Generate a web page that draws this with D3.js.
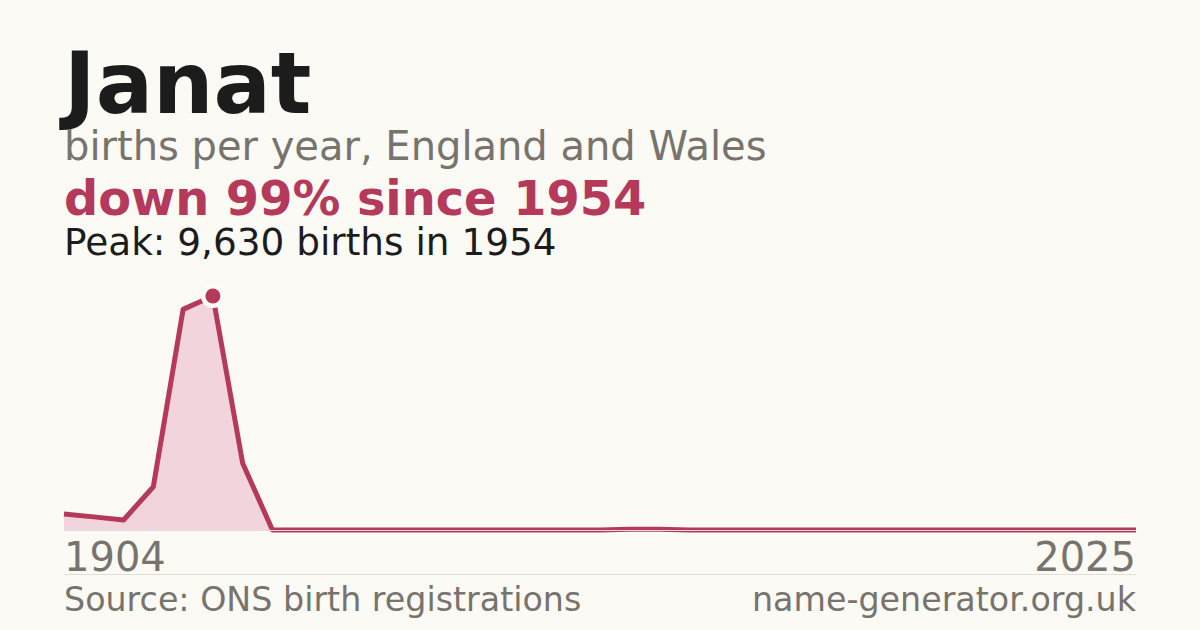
<!DOCTYPE html>
<html>
<head>
  <title>Janat births</title>
  <style>
    html, body {
      margin: 0;
      padding: 0;
      background: #fbfaf5;
    }
    svg {
      display: block;
      font-family: "DejaVu Sans", sans-serif;
    }
  </style>
</head>
<body>
  <svg id="chart"></svg>

  <script src="https://d3js.org/d3.v7.min.js"></script>
  <script>
    // Years on the x axis (decade samples, then annual)
    const years = [
      1904, 1914, 1924, 1934, 1944, 1954, 1964, 1974, 1984, 1994,
      1999, 2000, 2001, 2002, 2003, 2004, 2005, 2006, 2007, 2008,
      2009, 2010, 2011, 2012, 2013, 2014, 2015, 2016, 2017, 2018,
      2019, 2020, 2021, 2022, 2023, 2024, 2025
    ];

    // Births per year
    const births = [
      660, 540, 410, 1780, 9080, 9630, 2750, 0, 0, 0,
      0, 0, 0, 0, 0, 0, 0, 0, 0, 35,
      35, 0, 0, 0, 0, 0, 0, 0, 0, 0,
      0, 0, 0, 0, 0, 0, 0
    ];

    const axisLabels = ["1904", "2025"];

    const title = "Janat";
    const subtitle = "births per year, England and Wales";
    const headline = "down 99% since 1954";
    const peakNote = "Peak: 9,630 births in 1954";
    const source = "Source: ONS birth registrations";
    const site = "name-generator.org.uk";

    const chart = () => {
      const width = 1200;
      const height = 630;
      const left = 64;
      const right = 1136;
      const base = 530;
      const top = 296;

      const red = "#b5395a";
      const grey = "#78736c";
      const dark = "#1c1c1c";

      const svg = d3.select("#chart")
        .attr("width", width)
        .attr("height", height);

      svg.append("rect")
        .attr("width", width)
        .attr("height", height)
        .attr("fill", "#fbfaf5");

      const data = years.map((y, i) => ({ year: y, value: births[i] }));

      const x = d3.scalePoint()
        .domain(years)
        .range([left, right]);

      const y = d3.scaleLinear()
        .domain([0, d3.max(births)])
        .range([base, top]);

      // headings
      svg.append("text")
        .attr("x", left)
        .attr("y", 113)
        .attr("font-size", 85)
        .attr("font-weight", "bold")
        .attr("fill", dark)
        .text(title);

      svg.append("text")
        .attr("x", left)
        .attr("y", 160)
        .attr("font-size", 40)
        .attr("fill", grey)
        .text(subtitle);

      svg.append("text")
        .attr("x", left)
        .attr("y", 215)
        .attr("font-size", 47.8)
        .attr("font-weight", "bold")
        .attr("fill", red)
        .text(headline);

      svg.append("text")
        .attr("x", left)
        .attr("y", 255)
        .attr("font-size", 37.4)
        .attr("fill", dark)
        .text(peakNote);

      // area + line
      const area = d3.area()
        .x((d) => x(d.year))
        .y0(y(0))
        .y1((d) => y(d.value));

      const line = d3.line()
        .x((d) => x(d.year))
        .y((d) => y(d.value));

      svg.append("path")
        .datum(data)
        .attr("d", area)
        .attr("fill", "#f2d5dc");

      svg.append("path")
        .datum(data)
        .attr("d", line)
        .attr("fill", "none")
        .attr("stroke", red)
        .attr("stroke-width", 5)
        .attr("stroke-linejoin", "round");

      // baseline
      svg.append("line")
        .attr("x1", left)
        .attr("x2", right)
        .attr("y1", y(0) + 0.5)
        .attr("y2", y(0) + 0.5)
        .attr("stroke", "#e2ddd5")
        .attr("stroke-width", 1);

      // peak marker
      const peak = data[d3.maxIndex(births)];
      svg.append("circle")
        .attr("cx", x(peak.year))
        .attr("cy", y(peak.value))
        .attr("r", 12)
        .attr("fill", "#fdfcfa");

      svg.append("circle")
        .attr("cx", x(peak.year))
        .attr("cy", y(peak.value))
        .attr("r", 7.5)
        .attr("fill", red);

      // end labels
      svg.append("text")
        .attr("x", left)
        .attr("y", 571)
        .attr("font-size", 40)
        .attr("fill", grey)
        .text(axisLabels[0]);

      svg.append("text")
        .attr("x", right)
        .attr("y", 571)
        .attr("text-anchor", "end")
        .attr("font-size", 40)
        .attr("fill", grey)
        .text(axisLabels[1]);

      // footer rule and text
      svg.append("line")
        .attr("x1", left)
        .attr("x2", right)
        .attr("y1", 574.5)
        .attr("y2", 574.5)
        .attr("stroke", "#e2ddd5")
        .attr("stroke-width", 1);

      svg.append("text")
        .attr("x", left)
        .attr("y", 611)
        .attr("font-size", 33.3)
        .attr("fill", grey)
        .text(source);

      svg.append("text")
        .attr("x", right)
        .attr("y", 611)
        .attr("text-anchor", "end")
        .attr("font-size", 33.3)
        .attr("fill", grey)
        .text(site);
    };

    chart();
  </script>
</body>
</html>
